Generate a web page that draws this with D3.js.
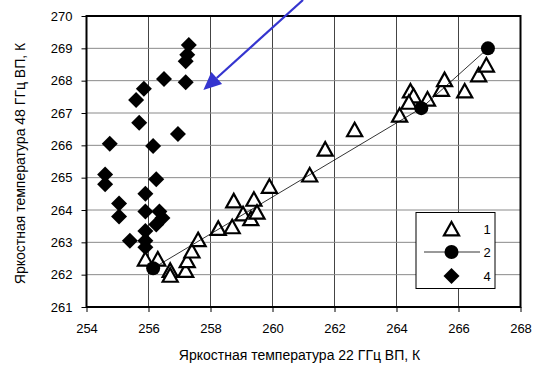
<!DOCTYPE html>
<html>
<head>
<meta charset="utf-8">
<script src="https://cdn.jsdelivr.net/npm/d3@7"></script>
<style>
  html, body { margin: 0; padding: 0; background: #fff; }
  svg { display: block; font-family: "Liberation Sans", Arial, sans-serif; }
</style>
</head>
<body>
<svg id="chart" width="535" height="368"></svg>
<script>
// Series 1: triangles (22 GHz, 48 GHz brightness temperatures, K)
const series1X = [255.9, 256.3, 256.7, 256.7, 257.2, 257.25, 257.4, 257.6, 258.25, 258.7,
                  258.75, 259.05, 259.3, 259.4, 259.5, 259.9, 261.2, 261.7, 262.65, 264.1,
                  264.45, 264.55, 264.4, 265.0, 265.45, 265.55, 266.2, 266.65, 266.9];
const series1Y = [262.45, 262.45, 262.1, 261.95, 262.1, 262.4, 262.7, 263.05, 263.4, 263.45,
                  264.25, 263.85, 263.7, 264.3, 263.9, 264.7, 265.05, 265.85, 266.45, 266.9,
                  267.65, 267.5, 267.3, 267.4, 267.7, 268.0, 267.65, 268.15, 268.45];

// Series 2: circles joined by a line
const series2X = [256.15, 264.8, 266.95];
const series2Y = [262.2, 267.15, 269.0];

// Series 4: diamonds
const series4X = [257.3, 257.25, 257.2, 256.5, 257.2, 255.85, 255.6, 255.7, 256.95, 254.75,
                  256.15, 254.6, 254.6, 256.25, 255.9, 255.05, 255.05, 255.9, 256.35, 256.45,
                  256.25, 255.9, 255.4, 255.9, 255.9];
const series4Y = [269.1, 268.8, 268.6, 268.05, 267.95, 267.75, 267.4, 266.7, 266.35, 266.05,
                  265.98, 265.1, 264.8, 264.95, 264.5, 264.2, 263.8, 263.95, 263.95, 263.75,
                  263.55, 263.35, 263.05, 263.05, 262.85];

const xTicks = [254, 256, 258, 260, 262, 264, 266, 268];
const yTicks = [261, 262, 263, 264, 265, 266, 267, 268, 269, 270];
const legendLabels = ["1", "2", "4"];

const xTitle = "Яркостная температура 22 ГГц ВП, К";
const yTitle = "Яркостная температура 48 ГГц ВП, К";

// Annotation arrow: tip in data units
const arrowTip = [257.77, 267.71];

const svg = d3.select("#chart");
const plotLeft = 86.5, plotRight = 520.5, plotTop = 16, plotBottom = 307;

const x = d3.scaleLinear().domain([254, 268]).range([plotLeft, plotRight]);
const y = d3.scaleLinear().domain([261, 270]).range([plotBottom, plotTop]);

// Grid lines
const grid = svg.append("g").attr("stroke-width", 1);
grid.selectAll("line.v").data(xTicks.slice(1, -1)).join("line").attr("class", "v")
  .attr("stroke", "#444")
  .attr("x1", d => x(d)).attr("x2", d => x(d))
  .attr("y1", plotTop).attr("y2", plotBottom);
grid.selectAll("line.h").data(yTicks.slice(1, -1)).join("line").attr("class", "h")
  .attr("stroke", "#8a8a8a")
  .attr("x1", plotLeft).attr("x2", plotRight)
  .attr("y1", d => y(d)).attr("y2", d => y(d));

// Axes
const xAxis = d3.axisBottom(x).tickValues(xTicks).tickSize(5).tickPadding(12).tickFormat(d3.format("d"));
const yAxis = d3.axisLeft(y).tickValues(yTicks).tickSize(5).tickPadding(9).tickFormat(d3.format("d"));

const gx = svg.append("g").attr("transform", `translate(0,${plotBottom})`).call(xAxis);
const gy = svg.append("g").attr("transform", `translate(${plotLeft},0)`).call(yAxis);
[gx, gy].forEach(g => {
  g.select(".domain").remove();
  g.selectAll(".tick line").attr("stroke", "#000").attr("stroke-width", 1);
  g.selectAll(".tick text").attr("fill", "#000").attr("font-size", 13)
    .attr("font-family", "Liberation Sans, Arial, sans-serif");
});

// Plot frame
svg.append("rect")
  .attr("x", plotLeft).attr("y", plotTop)
  .attr("width", plotRight - plotLeft).attr("height", plotBottom - plotTop)
  .attr("fill", "none").attr("stroke", "#000").attr("stroke-width", 2);

// Axis titles
svg.append("text")
  .attr("x", (plotLeft + plotRight) / 2 - 4).attr("y", 360)
  .attr("text-anchor", "middle").attr("font-size", 14).attr("fill", "#000")
  .text(xTitle);
svg.append("text")
  .attr("transform", `translate(25,${(plotTop + plotBottom) / 2 + 2}) rotate(-90)`)
  .attr("text-anchor", "middle").attr("font-size", 14).attr("fill", "#000")
  .text(yTitle);

// Marker shapes
const triPath = (cx, cy, s) => `M${cx},${cy - s * 0.62}L${cx + s * 0.58},${cy + s * 0.42}L${cx - s * 0.58},${cy + s * 0.42}Z`;
const diaPath = (cx, cy, s) => `M${cx},${cy - s}L${cx + s},${cy}L${cx},${cy + s}L${cx - s},${cy}Z`;

// Series 4: diamonds
const s4 = series4X.map((v, i) => [v, series4Y[i]]);
svg.append("g").selectAll("path").data(s4).join("path")
  .attr("d", d => diaPath(x(d[0]), y(d[1]), 8))
  .attr("fill", "#000");

// Series 1: open triangles
const s1 = series1X.map((v, i) => [v, series1Y[i]]);
svg.append("g").selectAll("path").data(s1).join("path")
  .attr("d", d => triPath(x(d[0]), y(d[1]), 13))
  .attr("fill", "#fff").attr("stroke", "#000").attr("stroke-width", 2.2)
  .attr("stroke-linejoin", "miter");

// Series 2: line and circles
const s2 = series2X.map((v, i) => [v, series2Y[i]]);
svg.append("path").datum(s2)
  .attr("d", d3.line().x(d => x(d[0])).y(d => y(d[1])))
  .attr("fill", "none").attr("stroke", "#000").attr("stroke-width", 0.8);
svg.append("g").selectAll("circle").data(s2).join("circle")
  .attr("cx", d => x(d[0])).attr("cy", d => y(d[1])).attr("r", 7)
  .attr("fill", "#000");

// Legend
const lg = svg.append("g");
lg.append("rect").attr("x", 416).attr("y", 212.5).attr("width", 79).attr("height", 76)
  .attr("fill", "#fff").attr("stroke", "#000").attr("stroke-width", 1);
const legY = [229, 252, 276];
lg.append("path").attr("d", triPath(451.5, legY[0] + 1, 13))
  .attr("fill", "#fff").attr("stroke", "#000").attr("stroke-width", 2.2);
lg.append("line").attr("x1", 424).attr("x2", 480).attr("y1", legY[1]).attr("y2", legY[1])
  .attr("stroke", "#000").attr("stroke-width", 0.8);
lg.append("circle").attr("cx", 451.5).attr("cy", legY[1]).attr("r", 7).attr("fill", "#000");
lg.append("path").attr("d", diaPath(451.5, legY[2], 8)).attr("fill", "#000");
lg.selectAll("text").data(legendLabels).join("text")
  .attr("x", 487).attr("y", (d, i) => legY[i] + 5)
  .attr("text-anchor", "middle").attr("font-size", 13).attr("fill", "#000")
  .text(d => d);

// Annotation arrow
const tipX = x(arrowTip[0]), tipY = y(arrowTip[1]);
const tailX = 303, tailY = 0;
const ang = Math.atan2(tipY - tailY, tipX - tailX);
const headLen = 18, headHalf = 8;
const bx = tipX - headLen * Math.cos(ang), by = tipY - headLen * Math.sin(ang);
svg.append("line")
  .attr("x1", tailX).attr("y1", tailY).attr("x2", bx).attr("y2", by)
  .attr("stroke", "#3535cf").attr("stroke-width", 2.2);
svg.append("path")
  .attr("d", `M${tipX},${tipY}L${bx + headHalf * Math.sin(ang)},${by - headHalf * Math.cos(ang)}L${bx - headHalf * Math.sin(ang)},${by + headHalf * Math.cos(ang)}Z`)
  .attr("fill", "#3535cf");
</script>
</body>
</html>
